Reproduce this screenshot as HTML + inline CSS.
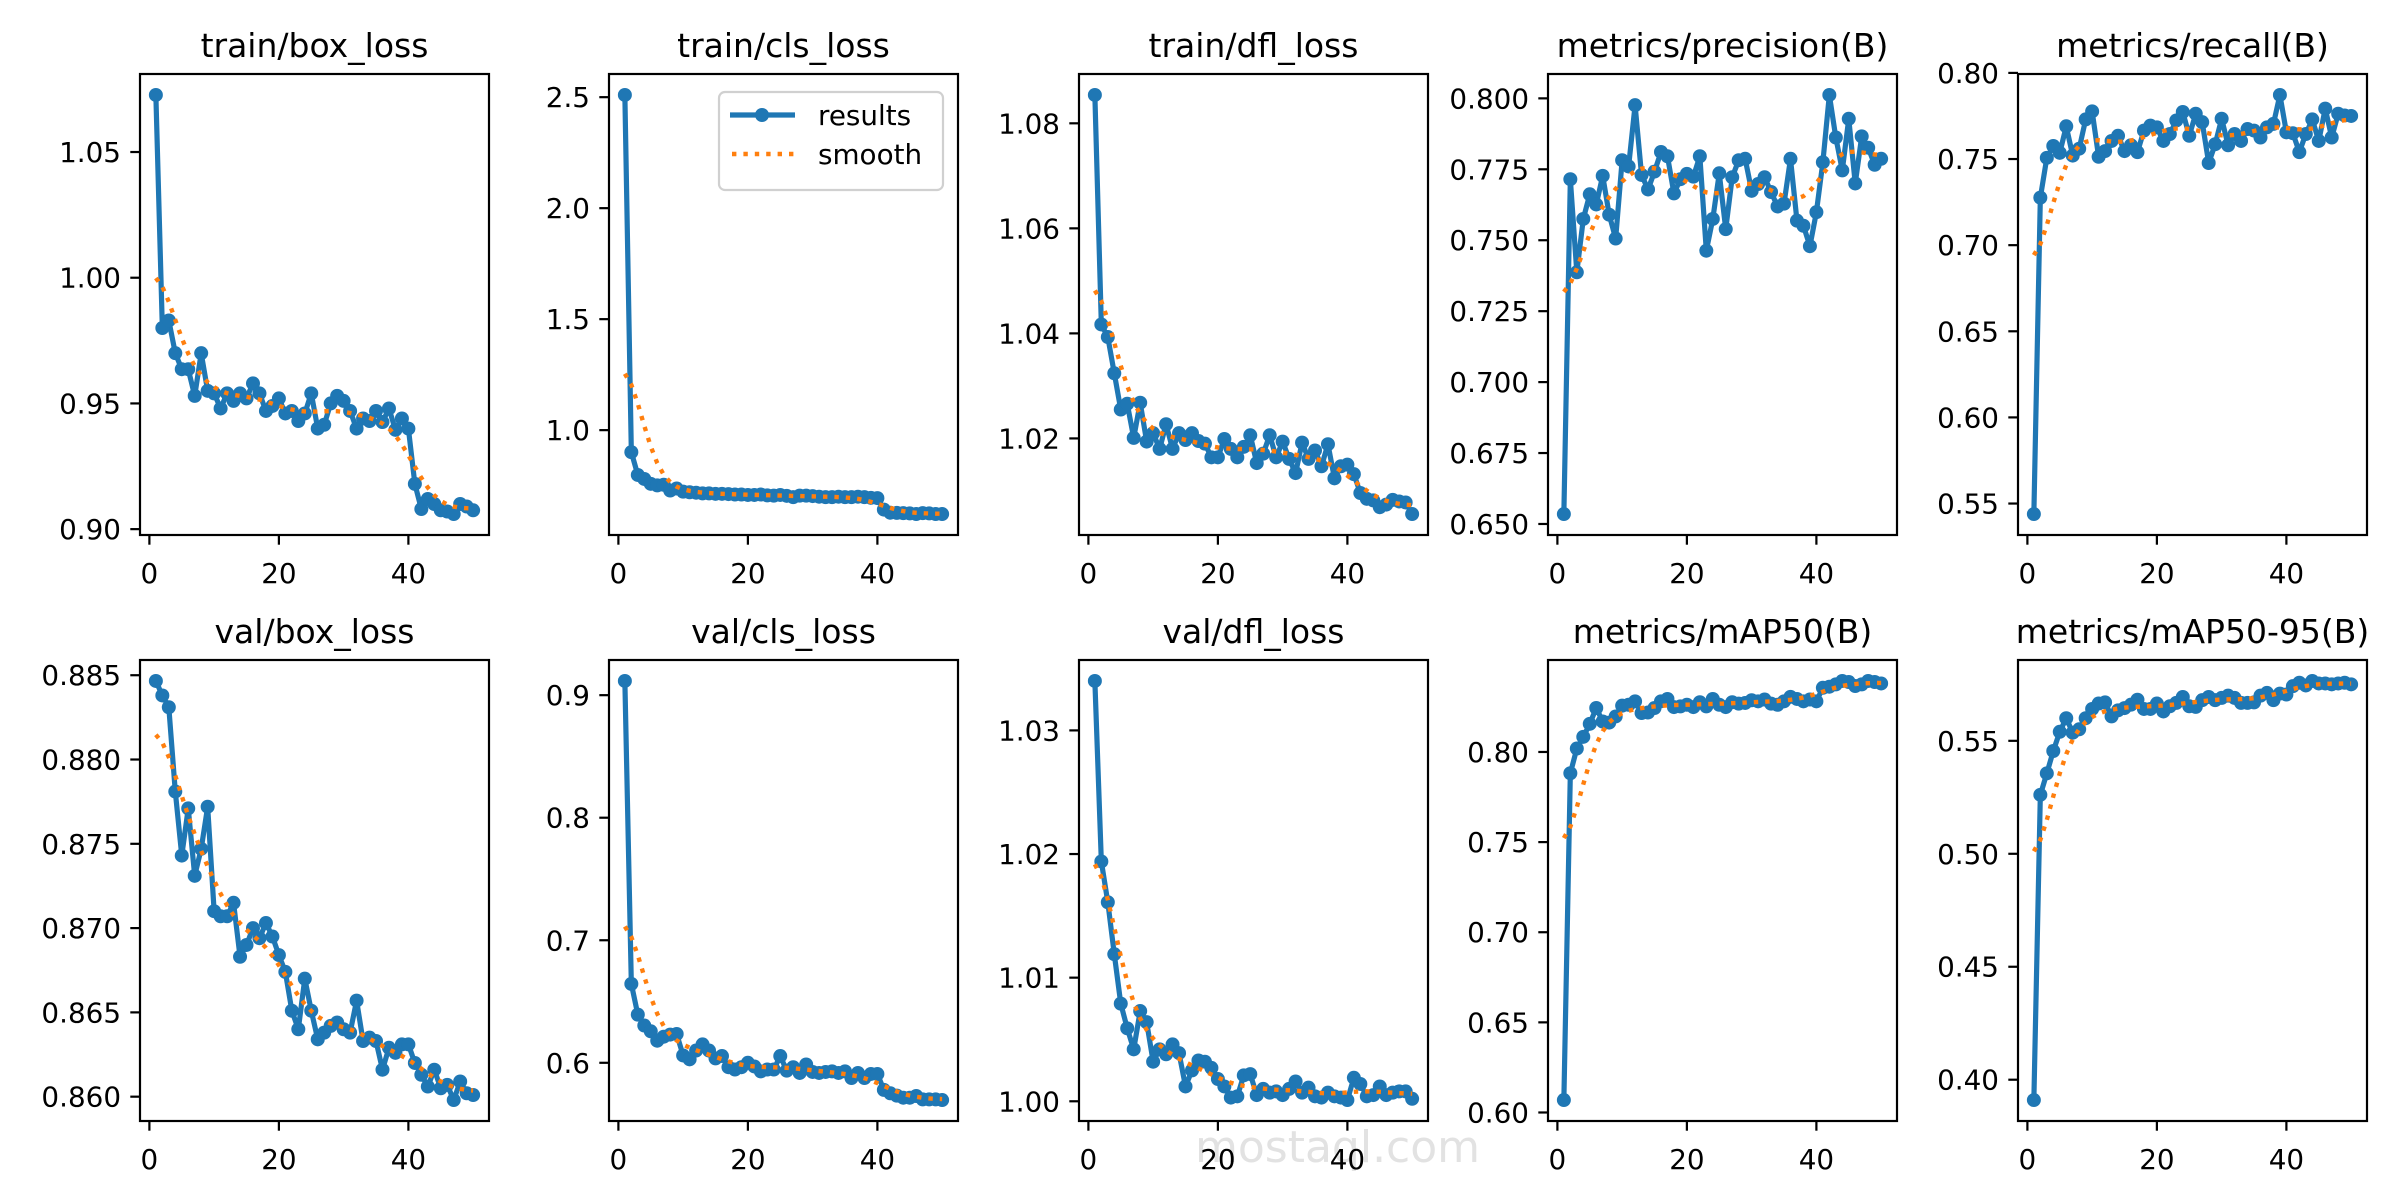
<!DOCTYPE html>
<html><head><meta charset="utf-8"><style>
html,body{margin:0;padding:0;background:#fff;}
svg{display:block;}
text{font-family:"DejaVu Sans","Liberation Sans",sans-serif;fill:#000;}
</style></head>
<body>
<svg id="fig" width="2400" height="1200" viewBox="0 0 2400 1200" xmlns="http://www.w3.org/2000/svg">
<rect width="2400" height="1200" fill="#fff"/>
<text x="1195" y="1162" font-size="44" fill="#e2e2e2" style="fill:#e2e2e2">mostaql.com</text>
</svg>
<script>
const epochs = Array.from({length:50},(_, i)=>i+1);
const xTicks = [0,20,40];
const titles = ["train/box_loss","train/cls_loss","train/dfl_loss","metrics/precision(B)","metrics/recall(B)","val/box_loss","val/cls_loss","val/dfl_loss","metrics/mAP50(B)","metrics/mAP50-95(B)"];
const trainBox = [1.0727,0.980,0.983,0.970,0.9636,0.9636,0.953,0.970,0.955,0.954,0.948,0.954,0.951,0.954,0.952,0.958,0.954,0.947,0.949,0.952,0.946,0.947,0.943,0.946,0.954,0.940,0.9415,0.950,0.953,0.951,0.947,0.940,0.944,0.943,0.947,0.9426,0.948,0.9395,0.944,0.940,0.918,0.908,0.912,0.910,0.9075,0.907,0.906,0.910,0.909,0.9075];
const trainCls = [2.51,0.901,0.798,0.78,0.758,0.751,0.754,0.728,0.737,0.723,0.72,0.718,0.715,0.715,0.713,0.713,0.712,0.71,0.71,0.708,0.708,0.71,0.706,0.705,0.708,0.704,0.698,0.705,0.705,0.703,0.7,0.698,0.698,0.7,0.698,0.698,0.7,0.698,0.695,0.694,0.642,0.628,0.627,0.626,0.625,0.622,0.626,0.625,0.622,0.622];
const trainDfl = [1.0854,1.0417,1.0393,1.0324,1.0255,1.0266,1.0201,1.0268,1.0194,1.021,1.018,1.0227,1.018,1.021,1.0197,1.021,1.0195,1.019,1.0164,1.0164,1.0199,1.018,1.0164,1.0184,1.0206,1.0153,1.0171,1.0206,1.0164,1.0194,1.0161,1.0134,1.0192,1.0161,1.0177,1.0147,1.0189,1.0124,1.0147,1.015,1.0132,1.0096,1.0085,1.0082,1.0069,1.0074,1.0083,1.008,1.0078,1.0056];
const precision = [0.6535,0.7715,0.7387,0.7575,0.7662,0.7626,0.7727,0.759,0.7506,0.7782,0.776,0.7976,0.773,0.7679,0.7742,0.7811,0.7796,0.7665,0.7715,0.7734,0.7724,0.7796,0.7463,0.7575,0.7736,0.7539,0.7722,0.7782,0.7787,0.7674,0.7698,0.7722,0.767,0.7619,0.7629,0.7787,0.7569,0.7551,0.7479,0.7599,0.7775,0.8012,0.7862,0.7746,0.7928,0.770,0.7866,0.7826,0.7766,0.7787];
const recall = [0.5439,0.7276,0.7507,0.7576,0.7536,0.769,0.752,0.756,0.773,0.7777,0.7513,0.7546,0.7605,0.7635,0.7546,0.758,0.754,0.7665,0.7694,0.7684,0.7605,0.7645,0.7724,0.7773,0.7635,0.7763,0.7714,0.7477,0.7586,0.7734,0.758,0.7645,0.7605,0.7674,0.7665,0.7625,0.7684,0.7704,0.7872,0.7655,0.765,0.754,0.7645,0.773,0.7605,0.7793,0.7625,0.7763,0.7753,0.775];
const valBox = [0.88466,0.8838,0.8831,0.8781,0.8743,0.8771,0.8731,0.8747,0.8772,0.8710,0.8707,0.8707,0.8715,0.8683,0.869,0.87,0.8694,0.8703,0.8695,0.8684,0.8674,0.8651,0.864,0.867,0.8651,0.8634,0.8638,0.8642,0.8644,0.864,0.8638,0.8657,0.8633,0.8635,0.8633,0.8616,0.8629,0.8626,0.8631,0.8631,0.862,0.8613,0.8606,0.8616,0.8605,0.8607,0.8598,0.8609,0.8602,0.8601];
const valCls = [0.9116,0.6644,0.6393,0.6304,0.6257,0.618,0.6213,0.623,0.6235,0.606,0.6028,0.610,0.615,0.610,0.6036,0.6055,0.5964,0.5945,0.5964,0.600,0.597,0.593,0.5945,0.5945,0.6055,0.5936,0.5964,0.5917,0.5986,0.5925,0.5917,0.5925,0.593,0.5917,0.593,0.5876,0.5917,0.5876,0.5909,0.5909,0.5779,0.5751,0.5732,0.5715,0.5715,0.5729,0.5701,0.5701,0.5701,0.5696];
const valDfl = [1.0340,1.0194,1.0161,1.0119,1.0079,1.0059,1.0042,1.0073,1.0064,1.0032,1.0042,1.0038,1.0046,1.0039,1.0012,1.0025,1.0033,1.0032,1.0027,1.0018,1.0012,1.0003,1.0004,1.0021,1.0022,1.0005,1.001,1.0007,1.0008,1.0005,1.001,1.0016,1.0007,1.0011,1.0004,1.0003,1.0007,1.0004,1.0003,1.0001,1.0019,1.0014,1.0004,1.0005,1.0012,1.0005,1.0007,1.0008,1.0008,1.0002];
const map50 = [0.6069,0.7882,0.8019,0.8084,0.8156,0.8244,0.8169,0.8163,0.8197,0.8257,0.8262,0.8281,0.8216,0.8219,0.8244,0.8281,0.8294,0.8249,0.8253,0.8262,0.8249,0.8276,0.8253,0.8294,0.8262,0.8249,0.8276,0.8268,0.8272,0.8287,0.8281,0.8291,0.8268,0.8262,0.8281,0.8306,0.8294,0.8281,0.8291,0.8281,0.8356,0.8362,0.8375,0.8394,0.8388,0.8366,0.8375,0.8394,0.8388,0.838];
const map5095 = [0.391,0.5261,0.5356,0.5455,0.554,0.56,0.5536,0.5551,0.56,0.5641,0.5665,0.567,0.5608,0.5635,0.5645,0.566,0.5682,0.5641,0.5641,0.5665,0.563,0.5653,0.5668,0.5694,0.5653,0.565,0.568,0.5694,0.568,0.569,0.57,0.569,0.5668,0.5668,0.567,0.57,0.5712,0.568,0.5709,0.5705,0.5742,0.5757,0.5745,0.5765,0.5754,0.5754,0.575,0.5754,0.5757,0.575];
const yTicks0 = [0.90,0.95,1.00,1.05];
const yTicks1 = [1.0,1.5,2.0,2.5];
const yTicks2 = [1.02,1.04,1.06,1.08];
const yTicks3 = [0.650,0.675,0.700,0.725,0.750,0.775,0.800];
const yTicks4 = [0.55,0.60,0.65,0.70,0.75,0.80];
const yTicks5 = [0.860,0.865,0.870,0.875,0.880,0.885];
const yTicks6 = [0.6,0.7,0.8,0.9];
const yTicks7 = [1.00,1.01,1.02,1.03];
const yTicks8 = [0.60,0.65,0.70,0.75,0.80];
const yTicks9 = [0.40,0.45,0.50,0.55];
const tickDecimals = [2,1,2,3,2,3,1,2,2,2];

const series = [trainBox,trainCls,trainDfl,precision,recall,valBox,valCls,valDfl,map50,map5095];
const tickSets = [yTicks0,yTicks1,yTicks2,yTicks3,yTicks4,yTicks5,yTicks6,yTicks7,yTicks8,yTicks9];
const NS = "http://www.w3.org/2000/svg";
const svg = document.getElementById('fig');

function gauss(y, sigma){
  const r = Math.floor(4*sigma+0.5), w=[]; let s=0;
  for(let k=-r;k<=r;k++){const v=Math.exp(-0.5*k*k/(sigma*sigma));w.push(v);s+=v;}
  const n=y.length, out=[];
  const idx=i=>{while(i<0||i>=n){if(i<0)i=-i-1;if(i>=n)i=2*n-i-1;}return i;};
  for(let i=0;i<n;i++){let a=0;for(let k=-r;k<=r;k++)a+=w[k+r]*y[idx(i+k)];out.push(a/s);}
  return out;
}
function mk(tag, attrs, parent){
  const e=document.createElementNS(NS,tag);
  for(const k in attrs) e.setAttribute(k,attrs[k]);
  (parent||svg).appendChild(e); return e;
}
const lefts=[140,609,1079,1548,2018], tops=[74,660], W=349, H=461;

series.forEach((data,p)=>{
  const L=lefts[p%5], T=tops[Math.floor(p/5)];
  const g=mk('g',{});
  
  
  const sm=gauss(data,3);
  const all=data.concat(sm);
  let mn=Math.min(...all), mx=Math.max(...all); const pad=(mx-mn)*0.05; mn-=pad; mx+=pad;
  const x0=1-49*0.05, x1=50+49*0.05;
  const sx=v=>L+(v-x0)/(x1-x0)*W;
  const sy=v=>T+H-(v-mn)/(mx-mn)*H;
  const t=mk('text',{x:L+W/2,y:T-17,'font-size':33,'text-anchor':'middle'},g);
  t.textContent=titles[p];
  
  
  xTicks.forEach(v=>{
    const X=sx(v);
    const tk=mk('line',{x1:X,x2:X,y1:T+H,y2:T+H+9.7,stroke:'#000','stroke-width':2.2},g);
    
    
    const tl=mk('text',{x:X,y:T+H+48,'font-size':27.8,'text-anchor':'middle'},g);
    tl.textContent=String(v);
    
    
  });
  tickSets[p].forEach(v=>{
    const Y=sy(v);
    const tk=mk('line',{x1:L-9.7,x2:L,y1:Y,y2:Y,stroke:'#000','stroke-width':2.2},g);
    
    
    const tl=mk('text',{x:L-19,y:Y+10,'font-size':27.8,'text-anchor':'end'},g);
    tl.textContent=v.toFixed(tickDecimals[p]);
    
    
  });
  const pts=data.map((v,i)=>sx(epochs[i]).toFixed(2)+','+sy(v).toFixed(2)).join(' ');
  const line=mk('polyline',{points:pts,fill:'none',stroke:'#1f77b4','stroke-width':5.2,'stroke-linejoin':'round'},g);
  
  
  data.forEach((v,i)=>{
    const c=mk('circle',{cx:sx(epochs[i]),cy:sy(v),r:7,fill:'#1f77b4'},g);
    
    
  });
  const spts=sm.map((v,i)=>sx(epochs[i]).toFixed(2)+','+sy(v).toFixed(2)).join(' ');
  const sl=mk('polyline',{points:spts,fill:'none',stroke:'#ff7f0e','stroke-width':4.4,'stroke-dasharray':'4.4 7'},g);
  
  
  const fr=mk('rect',{x:L,y:T,width:W,height:H,fill:'none',stroke:'#000','stroke-width':2.2},g);
  
  
});

const lg=mk('g',{});


const lb=mk('rect',{x:719,y:92,width:224,height:98,rx:6,fill:'#fff','fill-opacity':0.8,stroke:'#d0d0d0','stroke-width':2.2},lg);


const l1=mk('line',{x1:730,x2:795,y1:115,y2:115,stroke:'#1f77b4','stroke-width':5.2},lg);


const l1c=mk('circle',{cx:762,cy:115,r:7,fill:'#1f77b4'},lg);


const t1=mk('text',{x:818,y:125,'font-size':27.8},lg);
t1.textContent='results';


const l2=mk('line',{x1:732,x2:795,y1:154,y2:154,stroke:'#ff7f0e','stroke-width':4.4,'stroke-dasharray':'4.4 7'},lg);


const t2=mk('text',{x:818,y:164,'font-size':27.8},lg);
t2.textContent='smooth';


</script>
</body></html>
